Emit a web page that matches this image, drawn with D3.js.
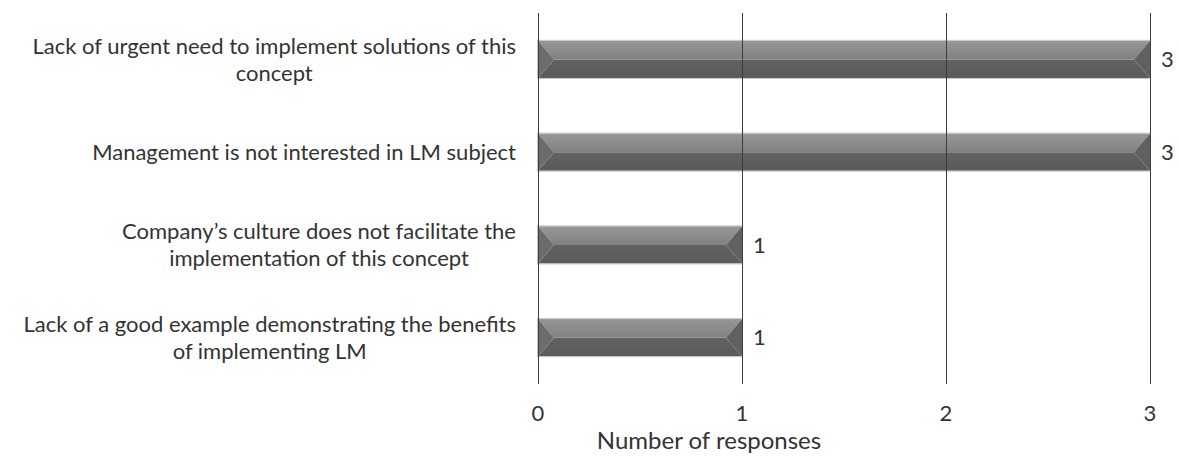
<!DOCTYPE html>
<html>
<head>
<meta charset="utf-8">
<script src="https://cdn.jsdelivr.net/npm/d3@7"></script>
<style>
  html, body { margin: 0; padding: 0; background: #fff; }
  svg text { font-family: Lato, "Open Sans", sans-serif; fill: #333; }
</style>
</head>
<body>
<svg id="chart" width="1179" height="456"></svg>
<script>
// Reasons for not implementing LM, and how many respondents gave each
const categories = [
  ["Lack of urgent need to implement solutions of this", "concept"],
  ["Management is not interested in LM subject"],
  ["Company\u2019s culture does not facilitate the", "implementation  of this concept"],
  ["Lack of a good example demonstrating the benefits", "of implementing LM"]
];
const responses = [3, 3, 1, 1];
const xTicks = [0, 1, 2, 3];
const axisTitle = "Number of responses";

const svg = d3.select("#chart");
const plotLeft = 538, plotRight = 1150, plotTop = 13, plotBottom = 384;
const fontSize = 22;

const x = d3.scaleLinear().domain([0, 3]).range([plotLeft, plotRight]);
const y = d3.scaleBand().domain(d3.range(categories.length))
  .range([plotTop, plotBottom]).paddingInner(0.6).paddingOuter(0.3);

// Bevelled bar fills
const defs = svg.append("defs");
const gTop = defs.append("linearGradient").attr("id", "bevTop").attr("x1", 0).attr("y1", 0).attr("x2", 0).attr("y2", 1);
gTop.append("stop").attr("offset", "0%").attr("stop-color", "#979797");
gTop.append("stop").attr("offset", "100%").attr("stop-color", "#818181");
const gBot = defs.append("linearGradient").attr("id", "bevBot").attr("x1", 0).attr("y1", 0).attr("x2", 0).attr("y2", 1);
gBot.append("stop").attr("offset", "0%").attr("stop-color", "#626262");
gBot.append("stop").attr("offset", "100%").attr("stop-color", "#5a5a5a");

const bars = svg.append("g").selectAll("g").data(responses).join("g")
  .attr("transform", (d, i) => `translate(${x(0)},${y(i)})`);

const bw = 16;
const h = y.bandwidth();
bars.append("path").attr("fill", "url(#bevBot)")
  .attr("d", d => { const w = x(d) - x(0); return `M${bw},${h/2}H${w-bw}L${w},${h}H0Z`; });
bars.append("path").attr("fill", "url(#bevTop)")
  .attr("d", d => { const w = x(d) - x(0); return `M0,0H${w}L${w-bw},${h/2}H${bw}Z`; });
bars.append("path").attr("fill", "#6c6c6c")
  .attr("d", `M0,0L${bw},${h/2}L0,${h}Z`);
bars.append("path").attr("fill", "#606060")
  .attr("d", d => { const w = x(d) - x(0); return `M${w},0L${w-bw},${h/2}L${w},${h}Z`; });
bars.append("rect").attr("fill", "none").attr("stroke", "#c4c4c4").attr("stroke-width", 1)
  .attr("x", -0.5).attr("y", -0.5)
  .attr("width", d => x(d) - x(0) + 1).attr("height", h + 1);

// Vertical gridlines
svg.append("g").selectAll("line").data(xTicks).join("line")
  .attr("x1", d => Math.round(x(d)) + 0.5).attr("x2", d => Math.round(x(d)) + 0.5)
  .attr("y1", plotTop).attr("y2", plotBottom)
  .attr("stroke", "#3c3c3c").attr("stroke-width", 1);

// Tick labels
svg.append("g").selectAll("text").data(xTicks).join("text")
  .attr("x", d => x(d)).attr("y", 421)
  .attr("text-anchor", "middle").attr("font-size", fontSize)
  .text(d => d);

// Axis title
svg.append("text").attr("x", 709).attr("y", 449)
  .attr("text-anchor", "middle").attr("font-size", 24)
  .text(axisTitle);

// Value labels
svg.append("g").selectAll("text").data(responses).join("text")
  .attr("x", d => x(d) + 11).attr("y", (d, i) => y(i) + h / 2)
  .attr("dy", "0.35em").attr("font-size", fontSize)
  .text(d => d);

// Category labels, each block centred with its widest line ending at 516
const lineH = 27;
const labels = svg.append("g");
categories.forEach((lines, i) => {
  const t = labels.append("text").attr("font-size", fontSize).attr("text-anchor", "middle");
  const cy = y(i) + h / 2;
  const y0 = cy - (lines.length - 1) * lineH / 2;
  lines.forEach((ln, j) => {
    t.append("tspan").attr("y", y0 + j * lineH).attr("dy", "0.35em").text(ln);
  });
  let maxW = 0;
  t.selectAll("tspan").each(function () { maxW = Math.max(maxW, this.getComputedTextLength()); });
  t.selectAll("tspan").attr("x", 516 - maxW / 2);
});
</script>
</body>
</html>
